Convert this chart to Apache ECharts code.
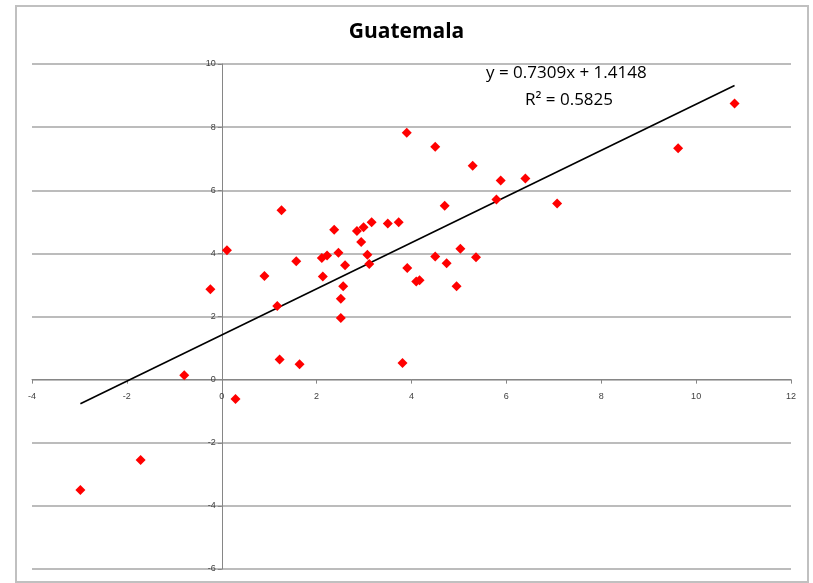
<!DOCTYPE html>
<html>
<head>
<meta charset="utf-8">
<script src="https://cdn.jsdelivr.net/npm/echarts@6/dist/echarts.min.js"></script>
<style>html,body{margin:0;padding:0;background:#fff;}#c{width:813px;height:583px;}</style>
</head>
<body>
<div id="c"></div>
<script>
const title = 'Guatemala';
const xValues = [-2.98,-1.71,-0.79,-0.24,0.11,0.29,0.90,1.17,1.22,1.57,1.26,1.64,3.90,4.50,5.29,5.88,6.40,5.79,7.07,4.70,2.37,2.85,2.99,3.16,3.50,3.73,2.94,2.11,2.22,2.46,3.07,2.60,3.11,2.13,2.56,2.51,3.91,4.10,4.17,4.50,4.74,5.03,5.36,4.95,2.51,3.81,9.62,10.81];
const yValues = [-3.50,-2.55,0.14,2.86,4.10,-0.61,3.28,2.33,0.64,3.75,5.37,0.49,7.82,7.38,6.78,6.31,6.37,5.71,5.58,5.51,4.75,4.71,4.83,4.99,4.95,4.99,4.36,3.85,3.93,4.02,3.96,3.62,3.66,3.27,2.96,2.56,3.54,3.11,3.15,3.90,3.69,4.15,3.88,2.96,1.95,0.53,7.33,8.75];
const slope = 0.7309;
const intercept = 1.4148;
const equationText = 'y = 0.7309x + 1.4148';
const r2Text = 'R² = 0.5825';

const points = xValues.map((x, i) => [x, yValues[i]]);
const xMin = Math.min(...xValues), xMax = Math.max(...xValues);
const trend = [[xMin, slope * xMin + intercept], [xMax, slope * xMax + intercept]];

const gridLeft = 32, gridRight = 22, gridTop = 64, gridBottom = 14;
const W = 813, H = 583;
const plotW = W - gridLeft - gridRight, plotH = H - gridTop - gridBottom;
// offsets so the axes sit at x = 0 and y = 0 (like the reference)
const xAxisOffset = -plotH * (0 - (-6)) / (10 - (-6));
const yAxisOffset = -plotW * (0 - (-4)) / (12 - (-4));

const chart = echarts.init(document.getElementById('c'), null, {renderer: 'canvas'});
const lblStyle = {color: '#404040', fontSize: 9, fontFamily: 'Liberation Sans, Arial, sans-serif'};
chart.setOption({
  animation: false,
  backgroundColor: '#fff',
  title: {
    text: title, left: 'center', top: 17,
    textStyle: {fontFamily: 'Open Sans, Noto Sans, sans-serif', fontWeight: 'bold', fontSize: 21, color: '#000'}
  },
  graphic: [
    {type: 'rect', shape: {x: 16, y: 6, width: 792, height: 576}, style: {fill: 'none', stroke: '#c0c0c0', lineWidth: 2}, silent: true, z: -1},
    {type: 'text', left: 568 - 82, top: 65, style: {text: equationText, font: '17px "Open Sans", sans-serif', fill: '#000'}},
    {type: 'text', left: 568 - 43, top: 92, style: {text: r2Text, font: '17px "Open Sans", sans-serif', fill: '#000'}}
  ],
  grid: {left: gridLeft, right: gridRight, top: gridTop, bottom: gridBottom, containLabel: false, outerBoundsMode: 'none'},
  xAxis: {
    type: 'value', min: -4, max: 12, interval: 2, position: 'bottom', offset: xAxisOffset,
    axisLine: {onZero: false, lineStyle: {color: '#868686', width: 1}},
    axisTick: {show: true, length: 4, lineStyle: {color: '#868686'}},
    axisLabel: Object.assign({margin: 12}, lblStyle),
    splitLine: {show: false}
  },
  yAxis: {
    type: 'value', min: -6, max: 10, interval: 2, position: 'left', offset: yAxisOffset,
    axisLine: {onZero: false, lineStyle: {color: '#868686', width: 1}},
    axisTick: {show: true, length: 4, lineStyle: {color: '#868686'}},
    axisLabel: Object.assign({margin: 6}, lblStyle),
    splitLine: {show: true, lineStyle: {color: '#a6a6a6', width: 1.5}}
  },
  series: [
    {
      type: 'line', data: trend, symbol: 'none', silent: true,
      lineStyle: {color: '#000', width: 1.6}, z: 3
    },
    {
      type: 'scatter', data: points, symbol: 'diamond', symbolSize: 10,
      itemStyle: {color: '#ff0000', opacity: 1}, z: 4
    }
  ]
});
</script>
</body>
</html>
